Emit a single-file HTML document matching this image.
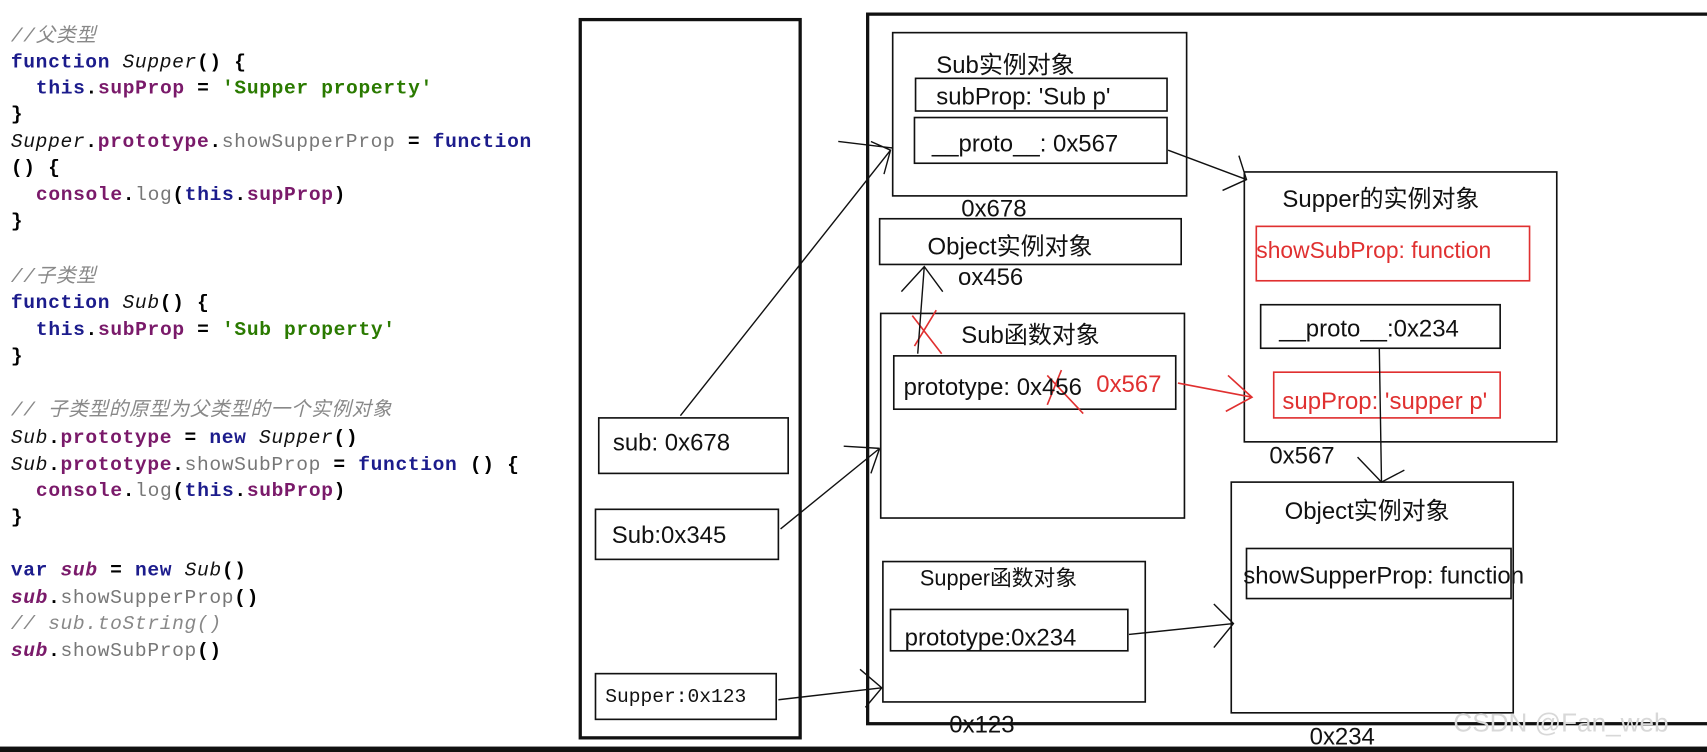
<!DOCTYPE html>
<html><head><meta charset="utf-8"><style>
html,body{margin:0;padding:0;background:#fff;width:1707px;height:752px;overflow:hidden}
svg{display:block}
.c{font-family:"Liberation Mono","Noto Sans CJK SC",monospace;font-size:18px;letter-spacing:0.6px;font-weight:bold;white-space:pre}
.k{fill:#1c1c8c}.p{fill:#7a1a6a}.s{fill:#2a7a00}.m{fill:#777;font-weight:normal}.cm{fill:#888;font-style:italic;font-weight:normal}.i{font-style:italic;font-weight:normal;fill:#111}
.t{font-family:"Liberation Sans","Noto Sans CJK SC",sans-serif;font-size:22px;fill:#111}
.r{fill:#e03030}
</style></head><body>
<svg width="1707" height="752" viewBox="0 0 1568 691" preserveAspectRatio="none" xml:space="preserve">
<g class="c">
<text x="10" y="38"><tspan class="cm">//父类型</tspan></text>
<text x="10" y="62"><tspan class="k">function</tspan> <tspan class="i">Supper</tspan>() {</text>
<text x="33" y="86"><tspan class="k">this</tspan>.<tspan class="p">supProp</tspan> = <tspan class="s">'Supper property'</tspan></text>
<text x="10" y="110">}</text>
<text x="10" y="135"><tspan class="i">Supper</tspan>.<tspan class="p">prototype</tspan>.<tspan class="m">showSupperProp</tspan> = <tspan class="k">function</tspan></text>
<text x="10" y="159">() {</text>
<text x="33" y="184"><tspan class="p">console</tspan>.<tspan class="m">log</tspan>(<tspan class="k">this</tspan>.<tspan class="p">supProp</tspan>)</text>
<text x="10" y="208">}</text>
<text x="10" y="259"><tspan class="cm">//子类型</tspan></text>
<text x="10" y="283"><tspan class="k">function</tspan> <tspan class="i">Sub</tspan>() {</text>
<text x="33" y="308"><tspan class="k">this</tspan>.<tspan class="p">subProp</tspan> = <tspan class="s">'Sub property'</tspan></text>
<text x="10" y="332">}</text>
<text x="10" y="382"><tspan class="cm">//  子类型的原型为父类型的一个实例对象</tspan></text>
<text x="10" y="407"><tspan class="i">Sub</tspan>.<tspan class="p">prototype</tspan> = <tspan class="k">new</tspan> <tspan class="i">Supper</tspan>()</text>
<text x="10" y="432"><tspan class="i">Sub</tspan>.<tspan class="p">prototype</tspan>.<tspan class="m">showSubProp</tspan> = <tspan class="k">function</tspan> () {</text>
<text x="33" y="456"><tspan class="p">console</tspan>.<tspan class="m">log</tspan>(<tspan class="k">this</tspan>.<tspan class="p">subProp</tspan>)</text>
<text x="10" y="480">}</text>
<text x="10" y="529"><tspan class="k">var</tspan> <tspan class="p" font-style="italic">sub</tspan> = <tspan class="k">new</tspan> <tspan class="i">Sub</tspan>()</text>
<text x="10" y="554"><tspan class="p" font-style="italic">sub</tspan>.<tspan class="m">showSupperProp</tspan>()</text>
<text x="10" y="578"><tspan class="cm">// sub.toString()</tspan></text>
<text x="10" y="603"><tspan class="p" font-style="italic">sub</tspan>.<tspan class="m">showSubProp</tspan>()</text>
</g>
<rect x="0" y="686" width="1568" height="5" fill="#111"/>
<g fill="none" stroke="#111">
<rect x="533" y="18" width="202" height="660" stroke-width="3"/>
<rect x="797" y="13" width="780" height="652" stroke-width="3"/>
<g stroke-width="1.5">
<rect x="550" y="384" width="174" height="51"/>
<rect x="547" y="468" width="168" height="46"/>
<rect x="547" y="619" width="166" height="42"/>
<rect x="820" y="30" width="270" height="150"/>
<rect x="841" y="72" width="231" height="30"/>
<rect x="840" y="108" width="232" height="42"/>
<rect x="808" y="201" width="277" height="42"/>
<rect x="809" y="288" width="279" height="188"/>
<rect x="821" y="327" width="259" height="49"/>
<rect x="1143" y="158" width="287" height="248"/>
<rect x="1158" y="280" width="220" height="40"/>
<rect x="1131" y="443" width="259" height="212"/>
<rect x="1145" y="504" width="243" height="46"/>
<rect x="811" y="516" width="241" height="129"/>
<rect x="818" y="560" width="218" height="38"/>
</g>
<g stroke="#e03030" stroke-width="1.5">
<rect x="1154" y="208" width="251" height="50"/>
<rect x="1170" y="342" width="208" height="42"/>
<path d="M1082 352 L1150 365 M1128 345 L1150 365 L1126 378"/>
<path d="M838 290 L865 325 M860 285 L840 318 M962 345 L995 380 M975 340 L962 372"/>
</g>
<g stroke-width="1.3">
<path d="M625 382 L818 138 M800 130 L818 138 L812 160 M770 130 L820 136"/>
<path d="M717 486 L808 412 M775 410 L808 412 M808 412 L800 435"/>
<path d="M715 643 L810 632 M790 615 L810 632 L795 650"/>
<path d="M1073 138 L1145 165 M1138 143 L1145 165 L1123 175"/>
<path d="M843 325 L849 245 M828 268 L849 245 L866 268"/>
<path d="M1267 320 L1269 443 M1247 420 L1269 443 L1290 432"/>
<path d="M1037 583 L1133 573 M1115 555 L1133 573 L1115 595"/>
</g>
</g>
<g class="t">
<text x="1335" y="672" font-size="24" style="fill:#d8d8d8">CSDN @Fan_web</text>
<text x="860" y="67">Sub实例对象</text>
<text x="860" y="96">subProp: 'Sub p'</text>
<text x="856" y="139">__proto__: 0x567</text>
<text x="883" y="199">0x678</text>
<text x="852" y="234">Object实例对象</text>
<text x="880" y="262">ox456</text>
<text x="883" y="315">Sub函数对象</text>
<text x="830" y="363">prototype: 0x456</text>
<text x="1007" y="360" class="r">0x567</text>
<text x="1178" y="190">Supper的实例对象</text>
<text x="1154" y="237" class="r" font-size="21">showSubProp: function</text>
<text x="1175" y="309">__proto__:0x234</text>
<text x="1178" y="376" class="r">supProp: 'supper p'</text>
<text x="1166" y="426">0x567</text>
<text x="1180" y="477">Object实例对象</text>
<text x="1142" y="536">showSupperProp: function</text>
<text x="845" y="538" font-size="20">Supper函数对象</text>
<text x="831" y="593">prototype:0x234</text>
<text x="872" y="673">0x123</text>
<text x="1203" y="684">0x234</text>
<text x="563" y="414">sub: 0x678</text>
<text x="562" y="499">Sub:0x345</text>
<text x="556" y="645" font-family="Liberation Mono,monospace" font-size="18">Supper:0x123</text>
</g>
</svg>
</body></html>
